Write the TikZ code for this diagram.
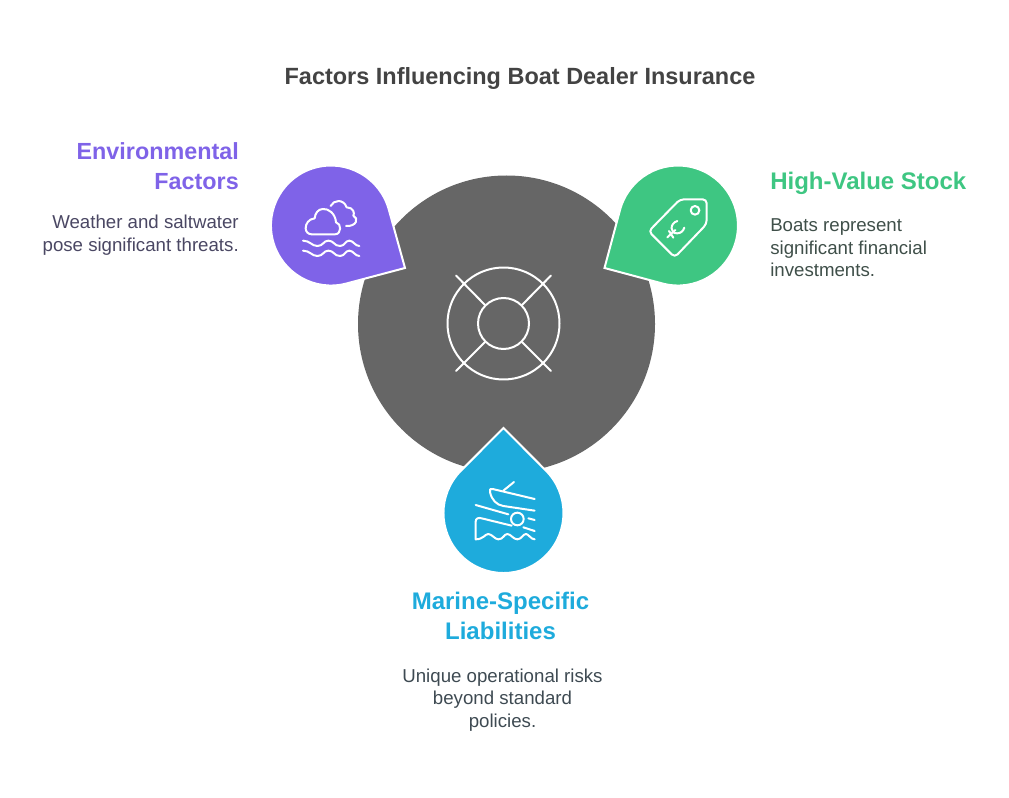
\documentclass[tikz,border=0pt]{standalone}
\usepackage{fontspec}
\setmainfont{Liberation Sans}
\definecolor{envcolor}{HTML}{7F63E8}
\definecolor{stockcolor}{HTML}{3EC682}
\definecolor{marinecolor}{HTML}{1EABDC}
\definecolor{hubcolor}{HTML}{666666}
\definecolor{titlecolor}{HTML}{434343}
\definecolor{envbodycolor}{HTML}{4A4763}
\definecolor{stockbodycolor}{HTML}{3F4F49}
\definecolor{marinebodycolor}{HTML}{3E4A52}
\tikzset{
  drop/.style={draw=white, line width=1.5pt, line join=miter},
  icon/.style={draw=white, line width=1.5pt, line cap=round, line join=round},
  headtext/.style={inner sep=0, font=\fontsize{18}{22.5}\selectfont\bfseries},
  bodytext/.style={inner sep=0, font=\fontsize{14}{16.9}\selectfont},
}
\begin{document}
\begin{tikzpicture}[x=.75pt, y=-.75pt]
\useasboundingbox (0,0) rectangle (1009,798);
% hub
\fill[hubcolor] (506.5,324) circle[radius=148.5];
\draw[icon] (503.5,323.5) circle[radius=56];
\draw[icon] (503.5,323.5) circle[radius=25.5];
\draw[icon] (456,275.5)--(485,305);
\draw[icon] (551,275.5)--(522,305);
\draw[icon] (456,371)--(485,342);
\draw[icon] (551,371)--(522,342);
% drops
\draw[drop, fill=envcolor] (405,268)--(388.9,209.9)
  arc[start angle=-15.1, end angle=-285.1, radius=60]--cycle;
\draw[drop, fill=stockcolor] (604.5,268)--(620,210)
  arc[start angle=195, end angle=465, radius=60]--cycle;
\draw[drop, fill=marinecolor] (503.5,428)--(545.9,470.6)
  arc[start angle=-45, end angle=225, radius=60]--cycle;
% cloud icon
\begin{scope}[shift={(260,150)}, scale=1/3]
\draw[icon] (155,253)--(225,253) .. controls (245,253) and (245,220) .. (228,217)
  .. controls (226,190) and (205,175) .. (188,177)
  .. controls (175,177) and (165,190) .. (164,205)
  .. controls (145,207) and (137,222) .. (137,235)
  .. controls (137,245) and (145,253) .. (155,253);
\draw[icon] (212,168) .. controls (220,150) and (250,145) .. (260,172)
  .. controls (280,172) and (285,190) .. (280,197)
  .. controls (297,205) and (290,230) .. (258,228);
\draw[icon] (129,272) .. controls (150,272) and (155,288) .. (172,288)
  .. controls (190,288) and (190,272) .. (205,272)
  .. controls (222,272) and (222,288) .. (240,288)
  .. controls (255,288) and (255,272) .. (268,272)
  .. controls (280,272) and (285,288) .. (298,288);
\draw[icon] (129,302) .. controls (150,302) and (155,318) .. (172,318)
  .. controls (190,318) and (190,302) .. (205,302)
  .. controls (222,302) and (222,318) .. (240,318)
  .. controls (255,318) and (255,302) .. (268,302)
  .. controls (280,302) and (285,318) .. (298,318);
\end{scope}
% tag icon
\begin{scope}[shift={(590,150)}, scale=1/3]
\draw[icon, rounded corners=3pt] (270,148)--(350,148)--(350,222)--(254,322)--(176,244)--cycle;
\draw[icon] (315,181) circle[radius=13];
\draw[icon] (262,213) .. controls (238,220) and (240,252) .. (262,250)
  .. controls (272,250) and (280,243) .. (283,233);
\draw[icon] (232,262)--(256,240);
\draw[icon] (237,243)--(250,263);
\end{scope}
% boat icon
\begin{scope}[shift={(430,420)}, scale=1/3]
\draw[icon] (252,186)--(220,212);
\draw[icon] (314,237)--(188,207) .. controls (180,205) and (178,208) .. (180,216)
  .. controls (185,240) and (200,255) .. (220,258)--(314,272);
\draw[icon] (137,255)--(235,283);
\draw[icon] (262,297) circle[radius=19];
\draw[icon] (295,295)--(314,300);
\draw[icon] (137,358)--(137,305) .. controls (137,295) and (145,292) .. (155,295)--(245,317);
\draw[icon] (280,322)--(314,333);
\draw[icon] (137,358) .. controls (160,358) and (165,342) .. (175,342)
  .. controls (185,342) and (195,358) .. (205,358)
  .. controls (220,358) and (222,342) .. (232,342)
  .. controls (242,342) and (250,358) .. (262,358)
  .. controls (275,358) and (278,342) .. (288,342)
  .. controls (295,342) and (303,358) .. (314,358);
\end{scope}
% texts
\node[headtext, text=titlecolor, font=\fontsize{17.6}{22.5}\selectfont\bfseries] (title) at (520,78.5) {Factors Influencing Boat Dealer Insurance};
\node[headtext, text=envcolor, anchor=east, align=right, font=\fontsize{17.5}{22.5}\selectfont\bfseries] (envhead) at (239,166) {Environmental\\Factors};
\node[bodytext, text=envbodycolor, anchor=east, align=right] (envbody) at (239,235) {Weather and saltwater\\pose significant threats.};
\node[headtext, text=stockcolor, anchor=west] (stockhead) at (770,183.5) {High-Value Stock};
\node[bodytext, text=stockbodycolor, anchor=west, align=left] (stockbody) at (770,248) {Boats represent\\significant financial\\investments.};
\node[headtext, text=marinecolor, align=center] (marinehead) at (500.5,616) {Marine-Specific\\Liabilities};
\node[bodytext, text=marinebodycolor, align=center] (marinebody) at (502.5,700) {Unique operational risks\\beyond standard\\policies.};
\end{tikzpicture}
\end{document}
